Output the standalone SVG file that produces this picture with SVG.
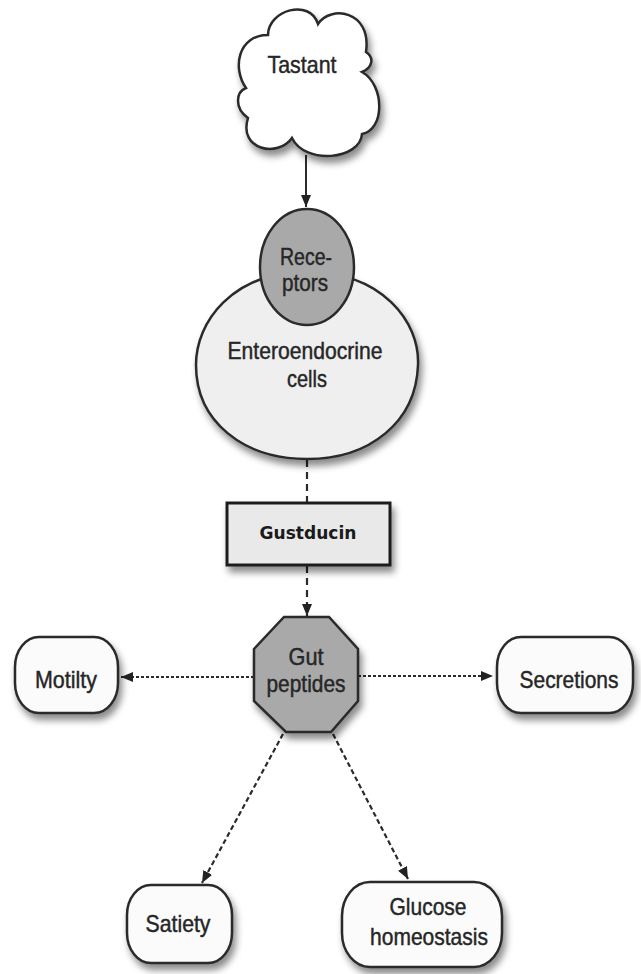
<svg xmlns="http://www.w3.org/2000/svg" width="641" height="974" viewBox="0 0 641 974">
<style>
.t{font-family:"Liberation Sans",Arial,sans-serif;font-size:24px;fill:#262626;stroke:#262626;stroke-width:0.45;text-anchor:middle}
.b{font-family:"DejaVu Sans",Verdana,sans-serif;font-weight:bold;font-size:18px;fill:#1a1a1a;text-anchor:middle}
.node{stroke:#2b2b2b;stroke-width:2.5}
.dash{fill:none;stroke:#2b2b2b;stroke-width:2.2;stroke-dasharray:7 5}
.dot{fill:none;stroke:#2b2b2b;stroke-width:2;stroke-dasharray:3 2}
.solid{fill:none;stroke:#2b2b2b;stroke-width:2}
</style>
<defs>
<filter id="sh" x="-20%" y="-20%" width="150%" height="150%">
<feDropShadow dx="3" dy="6" stdDeviation="3.5" flood-color="#000" flood-opacity="0.45"/>
</filter>
<marker id="ah" viewBox="0 0 12 10" refX="12" refY="5" markerWidth="12" markerHeight="10" markerUnits="userSpaceOnUse" orient="auto">
<path d="M0,0 L12,5 L0,10 Z" fill="#222"/>
</marker>
</defs>
<rect width="641" height="974" fill="#fff"/>

<g id="connectors">
<line class="solid" x1="306" y1="155" x2="306" y2="207" marker-end="url(#ah)"/>
<line class="dash" x1="307" y1="460" x2="307" y2="503"/>
<line class="dash" x1="307" y1="566" x2="307" y2="616" marker-end="url(#ah)"/>
<line class="dot" x1="254" y1="677" x2="121" y2="677" marker-end="url(#ah)"/>
<line class="dot" x1="358" y1="676" x2="493" y2="676" marker-end="url(#ah)"/>
<line class="dash" style="stroke-dasharray:5 3" x1="283" y1="734" x2="202" y2="883" marker-end="url(#ah)"/>
<line class="dash" style="stroke-dasharray:5 3" x1="333" y1="734" x2="408" y2="879" marker-end="url(#ah)"/>
</g>

<g id="tastant">
<path class="node" filter="url(#sh)" fill="#fff" d="M246,88 C232,68 238,35 268,35 C268,10 310,-2 318,24 C330,5 372,10 366,52 C375,58 372,68 362,72 C385,85 385,130 362,134 C360,160 305,165 292,138 C278,158 238,150 248,118 C234,108 236,92 246,88 Z"/>
<text class="t" x="302" y="73" textLength="69" lengthAdjust="spacingAndGlyphs">Tastant</text>
</g>

<g id="enteroendocrine">
<path class="node" filter="url(#sh)" fill="#efefef" d="M307,272 C382,272 420,322 418,365 C416,422 370,459 307,459 C244,459 196,422 196,365 C196,322 232,272 307,272 Z"/>
<text class="t" x="305" y="359" textLength="155" lengthAdjust="spacingAndGlyphs">Enteroendocrine</text>
<text class="t" x="307" y="387" textLength="40" lengthAdjust="spacingAndGlyphs">cells</text>
</g>

<g id="receptors">
<ellipse class="node" fill="#a9a9a9" cx="307" cy="267" rx="47" ry="58"/>
<text class="t" x="306" y="265" textLength="52" lengthAdjust="spacingAndGlyphs">Rece-</text>
<text class="t" x="305" y="291" textLength="46" lengthAdjust="spacingAndGlyphs">ptors</text>
</g>

<g id="gustducin">
<rect filter="url(#sh)" x="227" y="503" width="163" height="62" fill="#e9e9e9" stroke="#1e1e1e" stroke-width="3"/>
<text class="b" x="308" y="539" textLength="97" lengthAdjust="spacingAndGlyphs">Gustducin</text>
</g>

<g id="gut-peptides">
<polygon class="node" filter="url(#sh)" fill="#a9a9a9" points="284,617 329,617 358,649 358,701 331,732 286,732 254,701 254,649"/>
<text class="t" x="306" y="665" textLength="35" lengthAdjust="spacingAndGlyphs">Gut</text>
<text class="t" x="306" y="692" textLength="79" lengthAdjust="spacingAndGlyphs">peptides</text>
</g>

<g id="motility">
<rect class="node" filter="url(#sh)" fill="#fbfbfb" x="15" y="637" width="103" height="76" rx="24" ry="30"/>
<text class="t" x="66" y="688" textLength="62" lengthAdjust="spacingAndGlyphs">Motilty</text>
</g>

<g id="secretions">
<rect class="node" filter="url(#sh)" fill="#fbfbfb" x="497" y="637" width="136" height="76" rx="24" ry="30"/>
<text class="t" x="569" y="688" textLength="99" lengthAdjust="spacingAndGlyphs">Secretions</text>
</g>

<g id="satiety">
<rect class="node" filter="url(#sh)" fill="#fbfbfb" x="127" y="885" width="105" height="78" rx="24" ry="30"/>
<text class="t" x="178" y="932" textLength="65" lengthAdjust="spacingAndGlyphs">Satiety</text>
</g>

<g id="glucose">
<rect class="node" filter="url(#sh)" fill="#fbfbfb" x="342" y="882" width="160" height="85" rx="28" ry="34"/>
<text class="t" x="428" y="915" textLength="77" lengthAdjust="spacingAndGlyphs">Glucose</text>
<text class="t" x="429" y="945" textLength="118" lengthAdjust="spacingAndGlyphs">homeostasis</text>
</g>
</svg>
